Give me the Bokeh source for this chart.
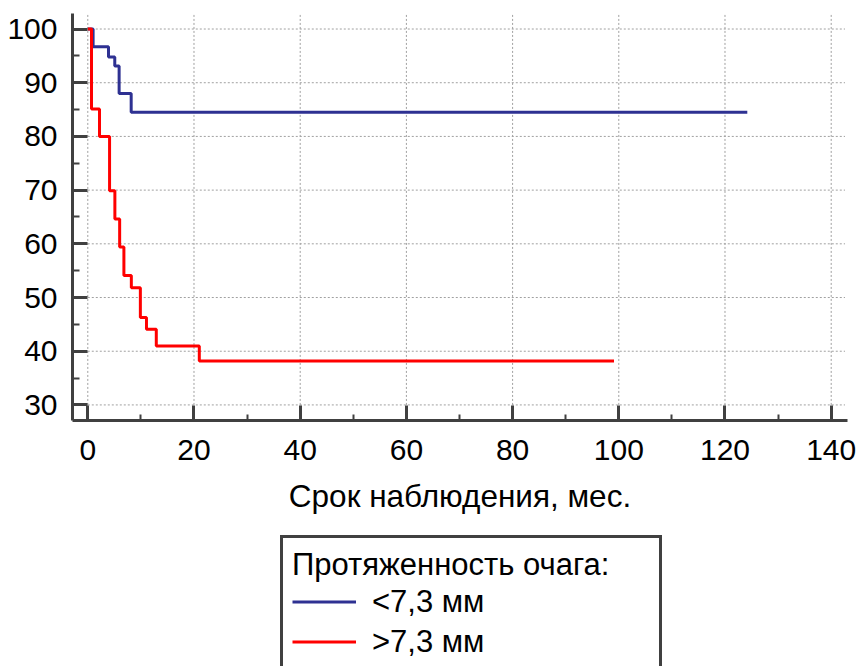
from bokeh.plotting import figure
from bokeh.layouts import column
from bokeh.models import (Range1d, SingleIntervalTicker, Legend, LegendItem)
from bokeh.embed import file_html
from bokeh.resources import INLINE

# ---- data ----
blue_t = [0, 1.0, 3.9, 5.08, 5.9, 8.17, 124.2]
blue_s = [100, 96.7, 94.8, 93.1, 88.0, 84.5, 84.5]

red_t = [0, 0.7, 2.2, 4.1, 5.1, 6.0, 6.8, 8.2, 9.9, 11.05, 12.9, 21.0, 99.1]
red_s = [100, 85.1, 80.0, 69.9, 64.6, 59.4, 54.1, 51.8, 46.3, 44.1, 40.95, 38.2, 38.2]

x_ticks = [0, 20, 40, 60, 80, 100, 120, 140]
y_ticks = [30, 40, 50, 60, 70, 80, 90, 100]

x_label = "Срок наблюдения, мес."
legend_title = "Протяженность очага:"
labels = ["<7,3 мм", ">7,3 мм"]
colors = ["#2E3192", "#FF0000"]

FONT = "Liberation Sans"
AX = "#404040"

p = figure(width=862, height=530, output_backend="svg", toolbar_location=None,
           x_range=Range1d(-2.88, 143.07), y_range=Range1d(27.1, 102.89),
           min_border_left=72, min_border_right=15, min_border_top=13,
           min_border_bottom=110)
p.outline_line_color = None
p.grid.visible = False
p.background_fill_color = "white"
p.border_fill_color = "white"

# dotted grid limited to the data region
gx_top = 102.7
gy_right = 142.6
p.segment(x0=x_ticks, y0=[30] * len(x_ticks), x1=x_ticks, y1=[gx_top] * len(x_ticks),
          line_color="#a0a0a0", line_width=1, line_dash="2 2")
p.segment(x0=[0] * len(y_ticks), y0=y_ticks, x1=[gy_right] * len(y_ticks), y1=y_ticks,
          line_color="#a0a0a0", line_width=1, line_dash="2 2")

p.step(blue_t, blue_s, mode="after", line_color=colors[0], line_width=3)
p.step(red_t, red_s, mode="after", line_color=colors[1], line_width=3)

for ax in (p.xaxis[0], p.yaxis[0]):
    ax.axis_line_color = AX
    ax.axis_line_width = 3
    ax.major_tick_line_color = AX
    ax.minor_tick_line_color = AX
    ax.major_tick_line_width = 3
    ax.minor_tick_line_width = 2
    ax.major_tick_in = 15
    ax.major_tick_out = 0
    ax.minor_tick_out = 0
    ax.major_label_text_font = FONT
    ax.major_label_text_font_size = "30px"
    ax.major_label_text_color = "black"

p.xaxis[0].ticker = SingleIntervalTicker(interval=20, num_minor_ticks=2)
p.yaxis[0].ticker = SingleIntervalTicker(interval=10, num_minor_ticks=2)
p.xaxis[0].minor_tick_in = 6
p.yaxis[0].minor_tick_in = 7
p.xaxis[0].major_label_standoff = 19
p.yaxis[0].major_label_standoff = 15
p.xaxis[0].axis_label = x_label
p.xaxis[0].axis_label_text_font = FONT
p.xaxis[0].axis_label_text_font_size = "31.5px"
p.xaxis[0].axis_label_text_font_style = "normal"
p.xaxis[0].axis_label_text_color = "black"
p.xaxis[0].axis_label_standoff = 15

# ---- legend strip below the chart ----
p2 = figure(width=862, height=136, output_backend="svg", toolbar_location=None,
            x_range=Range1d(0, 1), y_range=Range1d(0, 1),
            min_border_left=0, min_border_right=0, min_border_top=0,
            min_border_bottom=0, x_axis_location=None, y_axis_location=None)
p2.outline_line_color = None
p2.grid.visible = False
# legend-only renderers (kept outside the visible range)
lb = p2.line(x=[-3, -2], y=[-3, -2], line_color=colors[0], line_width=3)
lr = p2.line(x=[-3, -2], y=[-3, -2], line_color=colors[1], line_width=3)

legend = Legend(items=[LegendItem(label=labels[0], renderers=[lb]),
                       LegendItem(label=labels[1], renderers=[lr])],
                title=legend_title, location=(208, -6),
                title_text_font=FONT, title_text_font_size="31px",
                title_text_font_style="normal", title_text_color="black",
                label_text_font=FONT, label_text_font_size="31px",
                label_text_color="black",
                padding=9, spacing=3, margin=0, label_height=37, glyph_height=37,
                glyph_width=64, label_standoff=16, label_width=278,
                title_standoff=0,
                border_line_color="#404040", border_line_width=3,
                border_line_alpha=1,
                background_fill_color="white", background_fill_alpha=1)
p2.add_layout(legend, "center")

layout = column(p, p2, spacing=0)
open("out.html", "w").write(file_html(layout, INLINE))
